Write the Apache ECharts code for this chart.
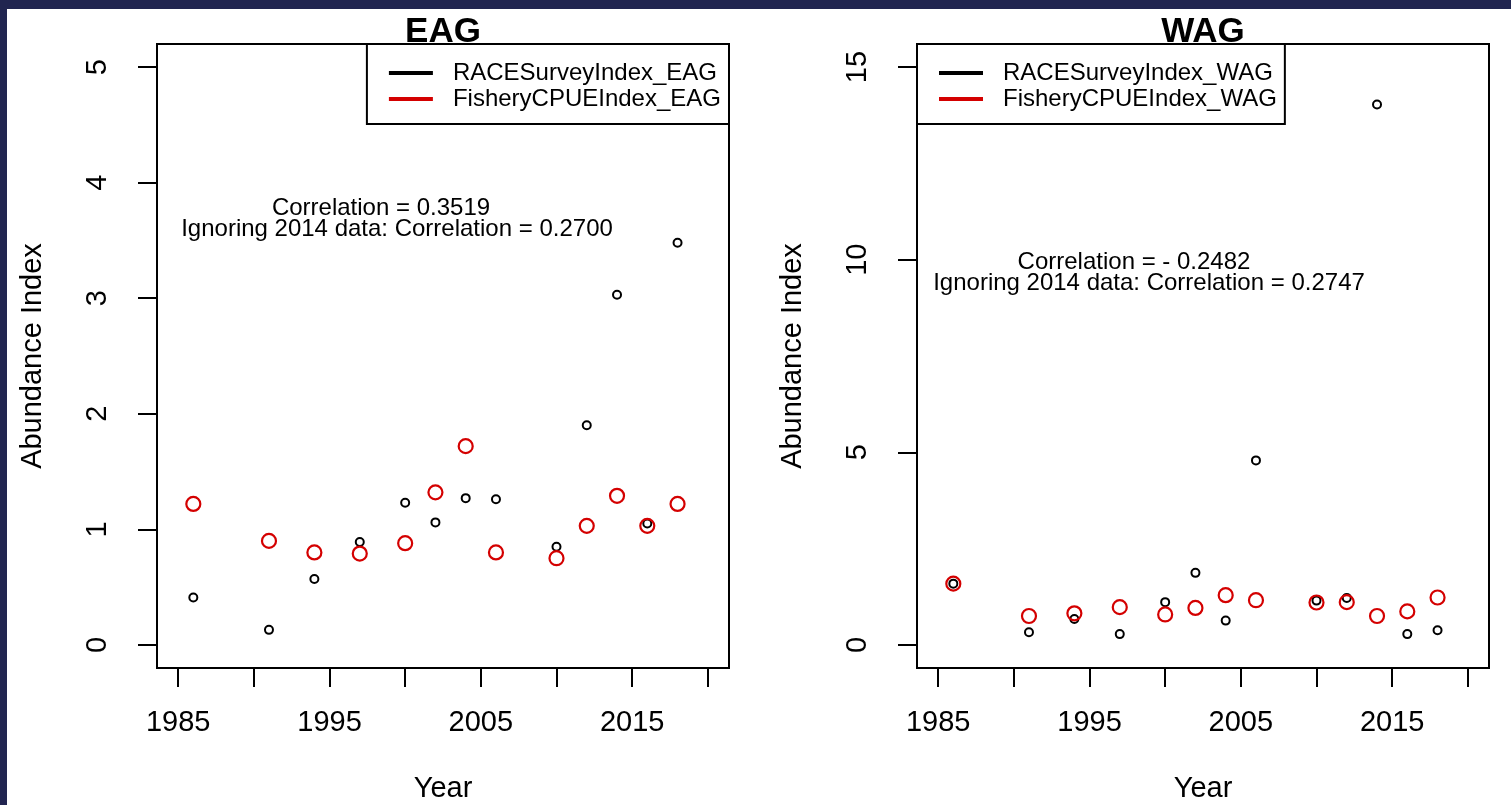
<!DOCTYPE html>
<html>
<head>
<meta charset="utf-8">
<script src="https://cdn.jsdelivr.net/npm/echarts@6/dist/echarts.min.js"></script>
<style>
html,body{margin:0;padding:0;background:#fff;}
#c{width:1511px;height:805px;}
</style>
</head>
<body>
<div id="c"></div>
<script>
// ---- data ----
const years = [1986, 1991, 1994, 1997, 2000, 2002, 2004, 2006, 2010, 2012, 2014, 2016, 2018];
const raceEAG = [0.41, 0.13, 0.57, 0.89, 1.23, 1.06, 1.27, 1.26, 0.85, 1.90, 3.03, 1.05, 3.48];
const cpueEAG = [1.22, 0.90, 0.80, 0.79, 0.88, 1.32, 1.72, 0.80, 0.75, 1.03, 1.29, 1.03, 1.22];
const raceWAG = [1.59, 0.33, 0.67, 0.28, 1.11, 1.87, 0.63, 4.79, 1.15, 1.22, 14.03, 0.28, 0.38];
const cpueWAG = [1.59, 0.75, 0.82, 0.98, 0.79, 0.96, 1.29, 1.16, 1.10, 1.11, 0.75, 0.87, 1.23];
const yearTicks = [1985, 1990, 1995, 2000, 2005, 2010, 2015, 2020];
const yearLabels = [1985, 1995, 2005, 2015];
const eagTicks = [0, 1, 2, 3, 4, 5];
const wagTicks = [0, 5, 10, 15];
const panelTitles = ['EAG', 'WAG'];
const raceNames = ['RACESurveyIndex_EAG', 'RACESurveyIndex_WAG'];
const cpueNames = ['FisheryCPUEIndex_EAG', 'FisheryCPUEIndex_WAG'];
const corrLine1 = ['Correlation = 0.3519', 'Correlation = - 0.2482'];
const corrLine2 = ['Ignoring 2014 data: Correlation = 0.2700', 'Ignoring 2014 data: Correlation = 0.2747'];
const xLabel = 'Year';
const yLabel = 'Abundance Index';

// ---- chart ----
const FONT = '"Liberation Sans", Arial, Helvetica, sans-serif';
const RED = '#d40000';
const pairs = (xs, ys) => xs.map((x, i) => [x, ys[i]]);

function xAxis(g) {
  return {
    type: 'value', gridIndex: g, min: 1983.6, max: 2021.4,
    splitLine: { show: false }, axisLine: { show: false, onZero: false },
    axisTick: { show: true, inside: false, length: 19, lineStyle: { color: '#000', width: 2 }, customValues: yearTicks },
    axisLabel: { customValues: yearLabels, formatter: v => String(v), fontSize: 29, color: '#000', fontFamily: FONT, margin: 40 },
    name: xLabel, nameLocation: 'middle', nameGap: 106,
    nameTextStyle: { fontSize: 29, color: '#000', fontFamily: FONT }
  };
}
function yAxis(g, min, max, ticks) {
  return {
    type: 'value', gridIndex: g, min: min, max: max,
    splitLine: { show: false }, axisLine: { show: false, onZero: false },
    axisTick: { show: true, inside: false, length: 19, lineStyle: { color: '#000', width: 2 }, customValues: ticks },
    axisLabel: { customValues: ticks, formatter: v => String(v), rotate: 90, fontSize: 29, color: '#000', fontFamily: FONT, margin: 45 },
    name: yLabel, nameLocation: 'middle', nameGap: 110, nameRotate: 90,
    nameTextStyle: { fontSize: 29, color: '#000', fontFamily: FONT }
  };
}
function legend(g, pos) {
  return Object.assign({
    orient: 'vertical', top: 44,
    padding: [17, 8, 13, 22],
    itemWidth: 44, itemHeight: 4, itemGap: 2,
    borderColor: '#000', borderWidth: 2, backgroundColor: '#fff',
    selectedMode: false,
    textStyle: { fontSize: 24, color: '#000', fontFamily: FONT, lineHeight: 24, padding: [0, 0, 0, 15] },
    data: [
      { name: raceNames[g], icon: 'rect', itemStyle: { color: '#000', borderWidth: 0 } },
      { name: cpueNames[g], icon: 'rect', itemStyle: { color: RED, borderWidth: 0 } }
    ]
  }, pos);
}
function scatter(name, g, ys, color, size, bw) {
  return {
    type: 'scatter', name: name, xAxisIndex: g, yAxisIndex: g,
    data: pairs(years, ys), symbol: 'circle', symbolSize: size,
    itemStyle: { color: 'transparent', borderColor: color, borderWidth: bw, opacity: 1 },
    emphasis: { disabled: true }, silent: true, z: 3
  };
}
function txt(text, x, y, size, weight) {
  return { type: 'text', x: x, y: y, z: 10, silent: true,
    style: { text: text, fill: '#000', font: (weight || 'normal') + ' ' + size + 'px ' + FONT, textAlign: 'center', textVerticalAlign: 'middle' } };
}

const gridBase = { top: 44, width: 572, height: 624, show: true, borderColor: '#000', borderWidth: 2,
  backgroundColor: 'transparent', containLabel: false, outerBoundsMode: 'none' };

const option = {
  animation: false,
  backgroundColor: '#fff',
  grid: [
    Object.assign({ left: 157 }, gridBase),
    Object.assign({ left: 917 }, gridBase)
  ],
  xAxis: [xAxis(0), xAxis(1)],
  yAxis: [yAxis(0, -0.2, 5.2, eagTicks), yAxis(1, -0.6, 15.6, wagTicks)],
  legend: [legend(0, { right: 782 }), legend(1, { left: 917 })],
  series: [
    scatter(raceNames[0], 0, raceEAG, '#000', 8, 2),
    scatter(cpueNames[0], 0, cpueEAG, RED, 14, 2.2),
    scatter(raceNames[1], 1, raceWAG, '#000', 8, 2),
    scatter(cpueNames[1], 1, cpueWAG, RED, 14, 2.2)
  ],
  graphic: [
    { type: 'rect', shape: { x: 0, y: 0, width: 1511, height: 9 }, style: { fill: '#212550' }, silent: true, z: 20 },
    { type: 'rect', shape: { x: 0, y: 0, width: 7, height: 805 }, style: { fill: '#212550' }, silent: true, z: 20 },
    txt(panelTitles[0], 443, 32, 35, 'bold'),
    txt(panelTitles[1], 1203, 32, 35, 'bold'),
    txt(corrLine1[0], 381, 208, 24),
    txt(corrLine2[0], 397, 229, 24),
    txt(corrLine1[1], 1134, 262, 24),
    txt(corrLine2[1], 1149, 283, 24)
  ]
};

const chart = echarts.init(document.getElementById('c'), null, { renderer: 'canvas' });
chart.setOption(option);
</script>
</body>
</html>
